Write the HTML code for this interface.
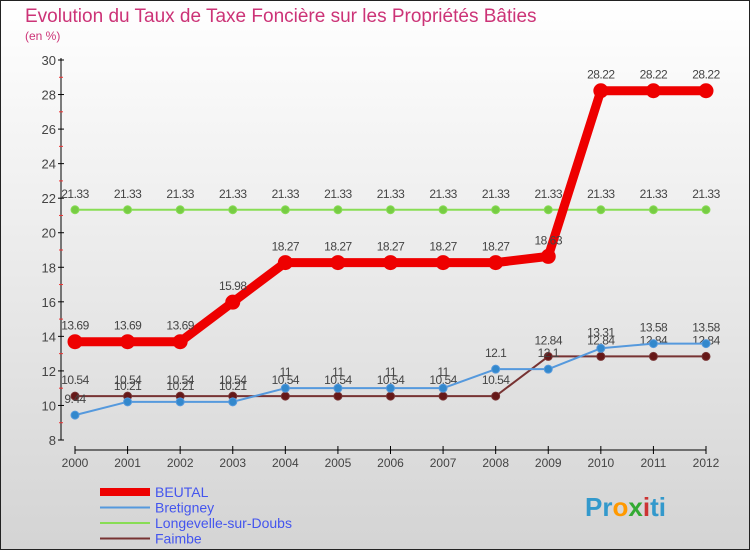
<!DOCTYPE html>
<html><head><meta charset="utf-8"><style>
body{margin:0}
#c{width:750px;height:550px;position:relative;font-family:"Liberation Sans",sans-serif;}
</style></head><body>
<div id="c">
<svg id="s" width="750" height="550" xmlns="http://www.w3.org/2000/svg">
<defs><linearGradient id="bg" x1="0" y1="0" x2="0" y2="1"><stop offset="0" stop-color="#ffffff"/><stop offset="1" stop-color="#d4d4d4"/></linearGradient></defs>
<rect x="0.5" y="0.5" width="749" height="549" fill="url(#bg)" stroke="#222"/>
<text x="25" y="22" font-size="19" fill="#cc3377">Evolution du Taux de Taxe Foncière sur les Propriétés Bâties</text>
<text x="25" y="40" font-size="12" fill="#cc3377">(en %)</text>
<g id="axes"></g><g id="series"></g><g id="legend"></g>
<text x="585" y="516" font-size="26" font-weight="bold" fill="#3399cc">Pr<tspan fill="#ff9900">o</tspan><tspan fill="#33aa33">x</tspan><tspan fill="#cc3333">i</tspan>ti</text>
</svg></div>
<script>
const years=[2000,2001,2002,2003,2004,2005,2006,2007,2008,2009,2010,2011,2012];
const beutal=[13.69,13.69,13.69,15.98,18.27,18.27,18.27,18.27,18.27,18.63,28.22,28.22,28.22];
const bretigney=[9.44,10.21,10.21,10.21,11,11,11,11,12.1,12.1,13.31,13.58,13.58];
const longevelle=[21.33,21.33,21.33,21.33,21.33,21.33,21.33,21.33,21.33,21.33,21.33,21.33,21.33];
const faimbe=[10.54,10.54,10.54,10.54,10.54,10.54,10.54,10.54,10.54,12.84,12.84,12.84,12.84];
const yTicks=[8,10,12,14,16,18,20,22,24,26,28,30];
const NS="http://www.w3.org/2000/svg";
const X=i=>75+i*(706-75)/(years.length-1);
const Y=v=>440-(v-8)*(380/22);
function mk(tag,attrs,parent,text){const e=document.createElementNS(NS,tag);for(const k in attrs)e.setAttribute(k,attrs[k]);if(text!==undefined)e.textContent=text;parent.appendChild(e);return e;}
const ax=document.getElementById('axes');
let yl=mk('line',{x1:61,y1:58,x2:61,y2:440,stroke:'#000'},ax);


yTicks.forEach(t=>{
 mk('line',{x1:58,x2:64,y1:Y(t),y2:Y(t),stroke:'#000'},ax);
 if(t<30)mk('line',{x1:59,x2:63,y1:Y(t+1),y2:Y(t+1),stroke:'#e33'},ax);
 const tx=mk('text',{x:56,y:Y(t)+5,'font-size':13,fill:'#444','text-anchor':'end'},ax,String(t));
 
 
});
let xl=mk('line',{x1:75,y1:450,x2:706,y2:450,stroke:'#000'},ax);


years.forEach((yr,i)=>{
 mk('line',{x1:X(i),x2:X(i),y1:446,y2:454,stroke:'#000'},ax);
 const tx=mk('text',{x:X(i),y:467,'font-size':12,fill:'#444','text-anchor':'middle'},ax,String(yr));
 
 
});
const sg=document.getElementById('series');
function series(vals,color,w,r,name,dot){
 const g=mk('g',{},sg);
 
 
 mk('polyline',{points:vals.map((v,i)=>X(i)+','+Y(v)).join(' '),fill:'none',stroke:color,'stroke-width':w,'stroke-linejoin':'round'},g);
 vals.forEach((v,i)=>{
  const c=mk('circle',{cx:X(i),cy:Y(v),r:r,fill:dot,stroke:color,'stroke-width':1},g);
  
  
  mk('text',{x:X(i),y:Y(v)-12,'font-size':12,fill:'#444','text-anchor':'middle','letter-spacing':'-0.5'},g,String(v));
 });
}
series(longevelle,'#88dd55',2,4,'longevelle','#77cc44');
series(faimbe,'#773333',2,4,'faimbe','#661818');
series(bretigney,'#5599dd',2,4,'bretigney','#3388cc');
series(beutal,'#ee0000',9,7,'beutal','#ee0000');
const lg=document.getElementById('legend');
[['BEUTAL','#ee0000',8],['Bretigney','#5599dd',2],['Longevelle-sur-Doubs','#88dd55',2],['Faimbe','#773333',2]].forEach((d,i)=>{
 const y=492+i*15.5;
 const g=mk('g',{},lg);
 
 
 mk('line',{x1:100,x2:150,y1:y,y2:y,stroke:d[1],'stroke-width':d[2]},g);
 mk('text',{x:155,y:y+5,'font-size':14,fill:'#4455ee'},g,d[0]);
});
</script>
</body></html>
